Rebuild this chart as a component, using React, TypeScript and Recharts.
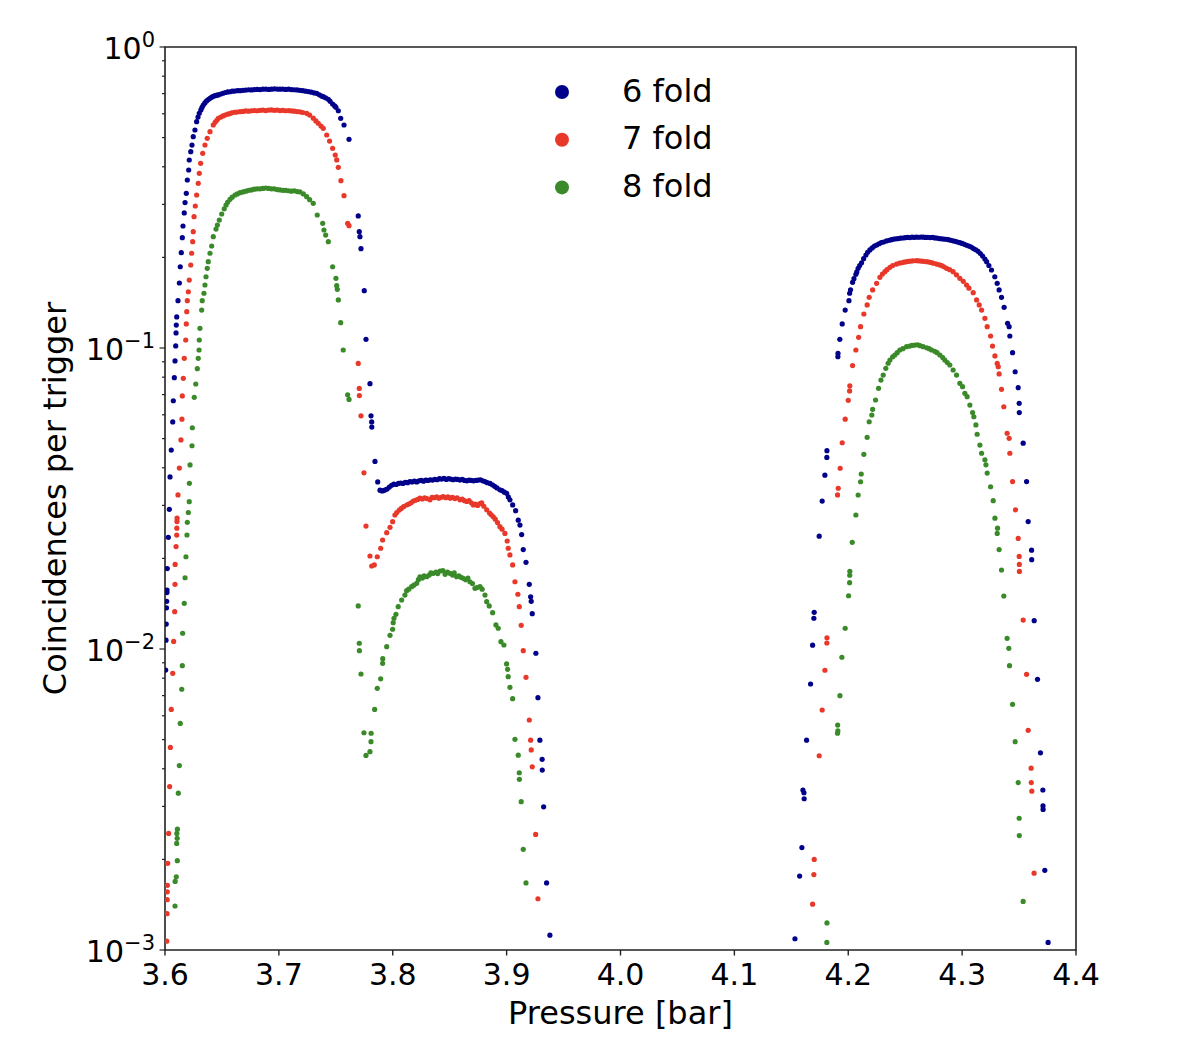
import { ScatterChart, Scatter, XAxis, YAxis, ReferenceArea, Legend } from 'recharts';

// Coincidence rate per trigger vs. gas pressure.
// Each entry is [pressure in bar, coincidences per trigger].
const sixFold: [number, number][] = [
  [3.6006, 0.00851], [3.6009, 0.0107], [3.6011, 0.0121], [3.6013, 0.0137], [3.6015, 0.0144],
  [3.6017, 0.0154], [3.6018, 0.0157], [3.602, 0.0185], [3.6029, 0.0235], [3.6038, 0.0291],
  [3.6044, 0.0373], [3.6055, 0.0458], [3.6068, 0.0568], [3.6073, 0.0668], [3.6082, 0.0797],
  [3.6088, 0.0906], [3.6094, 0.1016], [3.6097, 0.1122], [3.6099, 0.1192], [3.6103, 0.1268],
  [3.6114, 0.1436], [3.6126, 0.1644], [3.6134, 0.1862], [3.6143, 0.2073], [3.6152, 0.2326],
  [3.6158, 0.2543], [3.6169, 0.281], [3.6176, 0.3041], [3.6187, 0.3266], [3.6196, 0.3615],
  [3.6208, 0.3902], [3.6213, 0.4213], [3.6226, 0.449], [3.6237, 0.4724], [3.6248, 0.5035],
  [3.6263, 0.53], [3.6278, 0.5647], [3.629, 0.585], [3.6301, 0.6024], [3.6315, 0.618],
  [3.6325, 0.63], [3.6336, 0.6417], [3.635, 0.652], [3.6365, 0.662], [3.638, 0.669],
  [3.6395, 0.6755], [3.641, 0.681], [3.6425, 0.686], [3.644, 0.689], [3.6455, 0.692],
  [3.6468, 0.693], [3.649, 0.698], [3.651, 0.702], [3.653, 0.706], [3.655, 0.709],
  [3.6571, 0.71], [3.659, 0.713], [3.661, 0.714], [3.6635, 0.716], [3.6659, 0.716],
  [3.6685, 0.718], [3.671, 0.719], [3.6735, 0.721], [3.676, 0.72], [3.6785, 0.722],
  [3.681, 0.723], [3.6835, 0.722], [3.686, 0.724], [3.6885, 0.725], [3.691, 0.723],
  [3.6935, 0.724], [3.696, 0.726], [3.6985, 0.725], [3.701, 0.724], [3.7035, 0.725],
  [3.706, 0.723], [3.7085, 0.724], [3.711, 0.722], [3.7135, 0.721], [3.716, 0.72],
  [3.7185, 0.718], [3.721, 0.716], [3.7235, 0.713], [3.726, 0.711], [3.7285, 0.708],
  [3.731, 0.704], [3.7332, 0.7017], [3.7355, 0.694], [3.7375, 0.687], [3.739, 0.6838],
  [3.741, 0.678], [3.7434, 0.6704], [3.745, 0.66], [3.7472, 0.6466], [3.749, 0.637],
  [3.7501, 0.6303], [3.7522, 0.614], [3.7543, 0.5797], [3.7572, 0.5507], [3.7616, 0.4936],
  [3.7697, 0.2746], [3.7706, 0.2434], [3.7712, 0.2343], [3.7721, 0.2138], [3.775, 0.155],
  [3.7765, 0.1069], [3.78, 0.0761], [3.7809, 0.0595], [3.7815, 0.0568], [3.7816, 0.0546],
  [3.7844, 0.042], [3.7868, 0.0359], [3.7888, 0.0337], [3.7905, 0.0335], [3.792, 0.0336],
  [3.7935, 0.0338], [3.795, 0.034], [3.797, 0.0345], [3.799, 0.035], [3.801, 0.0353],
  [3.803, 0.0352], [3.805, 0.0355], [3.807, 0.0356], [3.809, 0.0355], [3.811, 0.0358],
  [3.813, 0.0357], [3.815, 0.036], [3.817, 0.0359], [3.819, 0.0361], [3.821, 0.0359],
  [3.823, 0.0362], [3.825, 0.0363], [3.827, 0.0361], [3.829, 0.0364], [3.831, 0.0363],
  [3.833, 0.0365], [3.835, 0.0364], [3.837, 0.0366], [3.839, 0.0365], [3.841, 0.0368],
  [3.843, 0.0367], [3.845, 0.0369], [3.847, 0.0366], [3.849, 0.0368], [3.851, 0.0367],
  [3.853, 0.0365], [3.855, 0.0367], [3.857, 0.0366], [3.859, 0.0364], [3.861, 0.0366],
  [3.863, 0.0363], [3.865, 0.0362], [3.867, 0.0364], [3.869, 0.0363], [3.871, 0.0362],
  [3.873, 0.0363], [3.875, 0.0364], [3.877, 0.0365], [3.879, 0.0362], [3.881, 0.036],
  [3.883, 0.0357], [3.8854, 0.0355], [3.8875, 0.0351], [3.8895, 0.0347], [3.8915, 0.0343],
  [3.8941, 0.0338], [3.896, 0.0336], [3.898, 0.0332], [3.9, 0.0329], [3.9015, 0.032],
  [3.9029, 0.0313], [3.9053, 0.0301], [3.9079, 0.0288], [3.9102, 0.0268], [3.9117, 0.0258],
  [3.9132, 0.024], [3.9146, 0.0214], [3.917, 0.0194], [3.9199, 0.0164], [3.9211, 0.0149],
  [3.9216, 0.0144], [3.9225, 0.0131], [3.9257, 0.00968], [3.9275, 0.00689], [3.9292, 0.00498],
  [3.9312, 0.0043], [3.9313, 0.00396], [3.9325, 0.00299], [3.9351, 0.00167], [3.938, 0.00112],
  [4.1532, 0.00109], [4.1573, 0.00176], [4.1593, 0.00219], [4.1602, 0.0034], [4.1611, 0.00333],
  [4.1613, 0.00318], [4.1634, 0.00498], [4.1669, 0.00765], [4.1687, 0.0103], [4.1698, 0.01265],
  [4.1701, 0.01324], [4.1745, 0.0237], [4.1771, 0.031], [4.1795, 0.0378], [4.1812, 0.0433],
  [4.1813, 0.0456], [4.1909, 0.0936], [4.191, 0.096], [4.1926, 0.1069], [4.1947, 0.1202],
  [4.1973, 0.1337], [4.2006, 0.1436], [4.2012, 0.152], [4.202, 0.156], [4.2038, 0.1653],
  [4.205, 0.17], [4.2067, 0.1757], [4.2075, 0.179], [4.2087, 0.184], [4.21, 0.188],
  [4.2117, 0.192], [4.2135, 0.198], [4.2155, 0.2037], [4.217, 0.208], [4.219, 0.2117],
  [4.221, 0.215], [4.223, 0.218], [4.2249, 0.2199], [4.227, 0.222], [4.229, 0.224],
  [4.231, 0.225], [4.2336, 0.2268], [4.236, 0.228], [4.238, 0.229], [4.24, 0.23],
  [4.242, 0.2305], [4.244, 0.231], [4.246, 0.2318], [4.248, 0.232], [4.25, 0.2325],
  [4.252, 0.233], [4.254, 0.2328], [4.256, 0.2335], [4.258, 0.2332], [4.26, 0.2336],
  [4.262, 0.2333], [4.264, 0.2338], [4.266, 0.2334], [4.268, 0.233], [4.27, 0.2332],
  [4.272, 0.2327], [4.274, 0.233], [4.276, 0.2322], [4.278, 0.2318], [4.28, 0.231],
  [4.282, 0.2305], [4.284, 0.23], [4.286, 0.2298], [4.288, 0.229], [4.29, 0.228],
  [4.292, 0.227], [4.294, 0.2262], [4.296, 0.225], [4.298, 0.2238], [4.3, 0.2225],
  [4.302, 0.221], [4.304, 0.2195], [4.306, 0.218], [4.308, 0.2165], [4.31, 0.214],
  [4.312, 0.212], [4.314, 0.2095], [4.316, 0.206], [4.318, 0.202], [4.32, 0.1975],
  [4.3215, 0.1935], [4.3235, 0.188], [4.3258, 0.1816], [4.3287, 0.1725], [4.3308, 0.164],
  [4.3325, 0.1559], [4.3346, 0.1474], [4.3369, 0.1365], [4.3399, 0.1208], [4.3413, 0.1177],
  [4.3419, 0.1096], [4.3443, 0.0965], [4.3466, 0.0834], [4.3492, 0.0738], [4.3501, 0.0655],
  [4.3502, 0.061], [4.3536, 0.0483], [4.3566, 0.036], [4.358, 0.0265], [4.361, 0.0213],
  [4.3611, 0.0198], [4.3633, 0.01242], [4.3662, 0.00793], [4.3688, 0.00452], [4.3709, 0.0034],
  [4.371, 0.00301], [4.3711, 0.00293], [4.3726, 0.00184], [4.3755, 0.00106],
];

const sevenFold: [number, number][] = [
  [3.6015, 0.00107], [3.6018, 0.00132], [3.6019, 0.00147], [3.602, 0.00156], [3.6021, 0.00164],
  [3.6024, 0.00194], [3.6032, 0.00244], [3.6041, 0.00349], [3.6047, 0.00471], [3.6055, 0.0063],
  [3.6068, 0.0083], [3.6076, 0.0106], [3.6085, 0.0133], [3.6088, 0.0164], [3.6089, 0.0191],
  [3.6097, 0.0219], [3.6103, 0.0239], [3.6104, 0.0252], [3.6105, 0.0265], [3.6106, 0.0272],
  [3.6114, 0.0325], [3.6126, 0.0399], [3.614, 0.0495], [3.6149, 0.058], [3.6152, 0.0693],
  [3.6161, 0.0793], [3.6169, 0.0924], [3.6182, 0.1063], [3.6187, 0.1202], [3.6191, 0.132],
  [3.6196, 0.1436], [3.6205, 0.1538], [3.6213, 0.1682], [3.6226, 0.1887], [3.6234, 0.2064],
  [3.6243, 0.2255], [3.6248, 0.2434], [3.6255, 0.2731], [3.6266, 0.2963], [3.6278, 0.3223],
  [3.6292, 0.3524], [3.6301, 0.3805], [3.6313, 0.4108], [3.6331, 0.4434], [3.6351, 0.4725],
  [3.6371, 0.4973], [3.6395, 0.5233], [3.6424, 0.5507], [3.644, 0.562], [3.6455, 0.571],
  [3.6468, 0.5797], [3.649, 0.585], [3.651, 0.59], [3.6527, 0.5943], [3.655, 0.598],
  [3.657, 0.601], [3.6586, 0.6048], [3.661, 0.607], [3.663, 0.608], [3.6659, 0.6095],
  [3.6685, 0.611], [3.671, 0.613], [3.6735, 0.612], [3.676, 0.614], [3.6785, 0.615],
  [3.681, 0.614], [3.6835, 0.616], [3.686, 0.617], [3.6885, 0.615], [3.691, 0.617],
  [3.6935, 0.618], [3.696, 0.616], [3.6985, 0.617], [3.701, 0.615], [3.7035, 0.616],
  [3.706, 0.614], [3.7085, 0.615], [3.711, 0.613], [3.7135, 0.612], [3.716, 0.61],
  [3.7185, 0.609], [3.721, 0.606], [3.7244, 0.602], [3.727, 0.594], [3.7302, 0.58],
  [3.7325, 0.568], [3.7346, 0.558], [3.737, 0.546], [3.739, 0.537], [3.742, 0.51],
  [3.7445, 0.487], [3.7472, 0.4608], [3.7495, 0.4378], [3.7508, 0.4214], [3.7522, 0.3984],
  [3.7545, 0.3596], [3.7572, 0.3206], [3.7604, 0.2596], [3.7616, 0.2549], [3.7697, 0.0889],
  [3.7706, 0.0734], [3.7707, 0.0695], [3.7721, 0.0595], [3.7747, 0.0385], [3.7765, 0.0256],
  [3.78, 0.02037], [3.7815, 0.01887], [3.7838, 0.01902], [3.7864, 0.02025], [3.7894, 0.02161],
  [3.7911, 0.02302], [3.7947, 0.02434], [3.7976, 0.02537], [3.7999, 0.02648], [3.8019, 0.02787],
  [3.8035, 0.0284], [3.8057, 0.02895], [3.8075, 0.0293], [3.8095, 0.0297], [3.8122, 0.03009],
  [3.814, 0.0303], [3.816, 0.0306], [3.818, 0.031], [3.82, 0.0312], [3.822, 0.0314],
  [3.8239, 0.0317], [3.826, 0.0315], [3.828, 0.0318], [3.83, 0.0316], [3.8327, 0.0313],
  [3.8345, 0.0319], [3.8365, 0.0318], [3.8385, 0.032], [3.8405, 0.0317], [3.8425, 0.0319],
  [3.8444, 0.0321], [3.8465, 0.0318], [3.8485, 0.032], [3.8505, 0.0317], [3.8525, 0.0319],
  [3.8545, 0.0316], [3.8565, 0.0318], [3.859, 0.0313], [3.861, 0.0315], [3.863, 0.0311],
  [3.865, 0.0309], [3.867, 0.0311], [3.869, 0.0306], [3.8707, 0.0301], [3.8725, 0.0303],
  [3.8745, 0.03], [3.8765, 0.0304], [3.8781, 0.0306], [3.88, 0.0298], [3.8825, 0.029],
  [3.885, 0.0283], [3.8865, 0.0279], [3.8883, 0.0275], [3.89, 0.027], [3.892, 0.0263],
  [3.8941, 0.0255], [3.896, 0.025], [3.8985, 0.0242], [3.9005, 0.02285], [3.9014, 0.02161],
  [3.9029, 0.02053], [3.9053, 0.01902], [3.9073, 0.01673], [3.9099, 0.0152], [3.9111, 0.01382],
  [3.9128, 0.01199], [3.9146, 0.00987], [3.917, 0.00805], [3.9199, 0.00581], [3.9211, 0.00498],
  [3.9216, 0.00462], [3.9225, 0.00406], [3.9255, 0.00242], [3.9275, 0.00148],
  [4.1687, 0.00142], [4.1698, 0.00178], [4.1701, 0.002], [4.1745, 0.00442], [4.1771, 0.00627],
  [4.1795, 0.0085], [4.1812, 0.01047], [4.1813, 0.0109], [4.1906, 0.0325], [4.1912, 0.0342],
  [4.1929, 0.03985], [4.1947, 0.04845], [4.1973, 0.058], [4.2, 0.067], [4.2012, 0.072],
  [4.2014, 0.0749], [4.2038, 0.0874], [4.2067, 0.0985], [4.2091, 0.1085], [4.2108, 0.1177],
  [4.2137, 0.1297], [4.2166, 0.139], [4.2184, 0.1474], [4.2214, 0.1559], [4.2249, 0.164],
  [4.2278, 0.1717], [4.23, 0.176], [4.2322, 0.1793], [4.234, 0.182], [4.2366, 0.1854],
  [4.239, 0.188], [4.2424, 0.1901], [4.245, 0.1915], [4.247, 0.192], [4.249, 0.1928],
  [4.2512, 0.1935], [4.253, 0.194], [4.255, 0.1945], [4.257, 0.1948], [4.26, 0.195],
  [4.262, 0.1948], [4.264, 0.1944], [4.266, 0.194], [4.2688, 0.1935], [4.271, 0.193],
  [4.273, 0.1922], [4.275, 0.1912], [4.2776, 0.1901], [4.28, 0.189], [4.282, 0.1878],
  [4.284, 0.1862], [4.2863, 0.184], [4.289, 0.182], [4.2921, 0.1793], [4.295, 0.175],
  [4.298, 0.1704], [4.301, 0.1665], [4.3039, 0.1619], [4.306, 0.158], [4.3097, 0.1527],
  [4.3127, 0.1444], [4.315, 0.139], [4.3171, 0.1337], [4.32, 0.1255], [4.322, 0.1177],
  [4.325, 0.1096], [4.3267, 0.1015], [4.3288, 0.0941], [4.3308, 0.0889], [4.3317, 0.0867],
  [4.3325, 0.082], [4.3346, 0.0729], [4.3366, 0.0638], [4.3395, 0.0521], [4.3413, 0.0501],
  [4.3419, 0.0447], [4.3443, 0.036], [4.3469, 0.029], [4.3492, 0.0233], [4.3501, 0.0203],
  [4.3502, 0.0191], [4.3503, 0.0181], [4.3536, 0.01248], [4.3566, 0.00824], [4.358, 0.00537],
  [4.3606, 0.00402], [4.3607, 0.0036], [4.3612, 0.00337], [4.3632, 0.0018],
];

const eightFold: [number, number][] = [
  [3.6088, 0.0014], [3.6089, 0.00169], [3.6099, 0.00175], [3.6108, 0.00198], [3.6103, 0.00226],
  [3.6107, 0.00235], [3.6104, 0.00244], [3.6109, 0.00252], [3.6117, 0.00332], [3.6126, 0.0041],
  [3.6134, 0.00566], [3.6147, 0.00735], [3.6152, 0.0088], [3.6155, 0.01128], [3.6169, 0.01418],
  [3.6176, 0.01725], [3.6184, 0.02025], [3.6193, 0.02392], [3.6196, 0.02636], [3.6205, 0.02841],
  [3.6213, 0.03086], [3.6214, 0.03552], [3.622, 0.04087], [3.6237, 0.04735], [3.624, 0.05434],
  [3.6257, 0.06859], [3.627, 0.07594], [3.6284, 0.08535], [3.6292, 0.09242], [3.6299, 0.09849],
  [3.6301, 0.1063], [3.6307, 0.1162], [3.6322, 0.1337], [3.6327, 0.1436], [3.6342, 0.152],
  [3.6351, 0.1619], [3.636, 0.1725], [3.6371, 0.184], [3.638, 0.1935], [3.6395, 0.2064],
  [3.641, 0.2182], [3.6424, 0.2343], [3.6448, 0.2484], [3.646, 0.256], [3.6477, 0.2661],
  [3.6498, 0.2787], [3.652, 0.29], [3.6536, 0.2986], [3.655, 0.305], [3.6571, 0.3119],
  [3.659, 0.317], [3.6615, 0.3223], [3.6635, 0.325], [3.6659, 0.3281], [3.6685, 0.33],
  [3.671, 0.332], [3.6735, 0.334], [3.676, 0.335], [3.6785, 0.337], [3.681, 0.338],
  [3.6835, 0.338], [3.686, 0.339], [3.6885, 0.34], [3.691, 0.339], [3.6935, 0.338],
  [3.696, 0.338], [3.6985, 0.336], [3.701, 0.335], [3.7035, 0.334], [3.706, 0.334],
  [3.7085, 0.333], [3.711, 0.332], [3.7135, 0.333], [3.716, 0.331], [3.7185, 0.33],
  [3.7215, 0.325], [3.7244, 0.3183], [3.727, 0.311], [3.7302, 0.3025], [3.7337, 0.2766],
  [3.7385, 0.2596], [3.7396, 0.2466], [3.7411, 0.2373], [3.7434, 0.2255], [3.7472, 0.1862],
  [3.7501, 0.1704], [3.7508, 0.1611], [3.7513, 0.1567], [3.7522, 0.1444], [3.7543, 0.1214],
  [3.7565, 0.0985], [3.7604, 0.0699], [3.7616, 0.0675], [3.7697, 0.0139], [3.7706, 0.01045],
  [3.7707, 0.00987], [3.7721, 0.00826], [3.7747, 0.00527], [3.7765, 0.00443], [3.78, 0.00456],
  [3.7809, 0.00492], [3.781, 0.00525], [3.7841, 0.0063], [3.7864, 0.0074], [3.7894, 0.00796],
  [3.7911, 0.00896], [3.7912, 0.00929], [3.7947, 0.01018], [3.7976, 0.0111], [3.7999, 0.01163],
  [3.8004, 0.01223], [3.8011, 0.01265], [3.8028, 0.01304], [3.8048, 0.01382], [3.8078, 0.01455],
  [3.8107, 0.01511], [3.8122, 0.01562], [3.814, 0.0158], [3.8166, 0.01611], [3.8185, 0.0163],
  [3.821, 0.01653], [3.8225, 0.017], [3.8239, 0.01738], [3.826, 0.0172], [3.8275, 0.0175],
  [3.8298, 0.01738], [3.832, 0.0176], [3.8335, 0.0179], [3.8356, 0.01784], [3.838, 0.018],
  [3.8395, 0.0178], [3.8415, 0.01816], [3.844, 0.0182], [3.846, 0.0177], [3.848, 0.018],
  [3.8502, 0.01784], [3.8525, 0.0176], [3.854, 0.0179], [3.8561, 0.01738], [3.858, 0.0175],
  [3.86, 0.0173], [3.8619, 0.01717], [3.864, 0.017], [3.866, 0.0172], [3.8678, 0.01673],
  [3.87, 0.0165], [3.8722, 0.01591], [3.874, 0.016], [3.8766, 0.01611], [3.8785, 0.0158],
  [3.881, 0.01511], [3.8825, 0.01436], [3.8847, 0.0139], [3.8877, 0.0132], [3.8906, 0.01202],
  [3.8926, 0.01172], [3.895, 0.01058], [3.8976, 0.01031], [3.9, 0.00892], [3.9009, 0.00856],
  [3.9014, 0.00809], [3.9029, 0.00746], [3.9053, 0.00684], [3.9073, 0.00501], [3.9102, 0.00444],
  [3.9111, 0.00388], [3.9112, 0.00369], [3.9128, 0.00311], [3.9146, 0.00216], [3.917, 0.00167],
  [4.1812, 0.00106], [4.1813, 0.00123], [4.1906, 0.00525], [4.1909, 0.00535], [4.1907, 0.00559],
  [4.1927, 0.007], [4.1944, 0.00939], [4.1973, 0.01172], [4.2003, 0.01503], [4.2012, 0.01661],
  [4.2013, 0.01758], [4.2014, 0.01812], [4.2035, 0.02262], [4.2067, 0.02787], [4.2087, 0.03248],
  [4.2108, 0.03595], [4.2114, 0.03814], [4.2137, 0.04433], [4.2166, 0.0505], [4.2184, 0.05689],
  [4.2207, 0.0599], [4.2214, 0.06257], [4.224, 0.06719], [4.2266, 0.07345], [4.2287, 0.07827],
  [4.2307, 0.08131], [4.233, 0.08561], [4.235, 0.089], [4.2366, 0.09123], [4.239, 0.0935],
  [4.2409, 0.09478], [4.243, 0.0965], [4.2453, 0.09849], [4.248, 0.0995], [4.2512, 0.101],
  [4.254, 0.1015], [4.256, 0.102], [4.2585, 0.1023], [4.261, 0.1025], [4.263, 0.1018],
  [4.2658, 0.101], [4.269, 0.1002], [4.271, 0.0995], [4.2732, 0.0985], [4.276, 0.0975],
  [4.278, 0.0965], [4.2805, 0.0948], [4.283, 0.093], [4.2848, 0.0912], [4.287, 0.0895],
  [4.2892, 0.0878], [4.2921, 0.0845], [4.2951, 0.0813], [4.298, 0.0763], [4.3004, 0.0744],
  [4.3024, 0.0707], [4.3044, 0.0689], [4.3068, 0.0646], [4.3092, 0.061], [4.3103, 0.0591],
  [4.3121, 0.0555], [4.3132, 0.0517], [4.3156, 0.0476], [4.3171, 0.0447], [4.32, 0.0425],
  [4.3209, 0.0409], [4.322, 0.0384], [4.325, 0.0346], [4.3273, 0.0311], [4.3288, 0.0272],
  [4.3311, 0.0252], [4.3308, 0.0242], [4.3325, 0.0214], [4.3346, 0.0183], [4.3366, 0.015],
  [4.3395, 0.01085], [4.341, 0.01005], [4.3416, 0.0088], [4.3443, 0.00655], [4.3466, 0.00492],
  [4.3492, 0.0036], [4.3501, 0.00274], [4.3502, 0.0024], [4.3536, 0.00145],
];

const pressureTicks = [3.6, 3.7, 3.8, 3.9, 4.0, 4.1, 4.2, 4.3, 4.4];
const decadeTicks = [0.001, 0.01, 0.1, 1];
const minorTicks = [
  0.002, 0.003, 0.004, 0.005, 0.006, 0.007, 0.008, 0.009,
  0.02, 0.03, 0.04, 0.05, 0.06, 0.07, 0.08, 0.09,
  0.2, 0.3, 0.4, 0.5, 0.6, 0.7, 0.8, 0.9,
];

const FONT = 'DejaVu Sans';
const INK = '#222';

const series = [
  { name: '6 fold', color: '#00008b', points: sixFold },
  { name: '7 fold', color: '#e8382a', points: sevenFold },
  { name: '8 fold', color: '#3a8a2a', points: eightFold },
];

const toRows = (pts: [number, number][]) => pts.map(([p, v]) => ({ p, v }));

const dot = (color: string) => (props: any) => (
  <circle cx={props.cx} cy={props.cy} r={2.6} fill={color} />
);

function PressureTick({ x, y, payload }: any) {
  return (
    <g>
      <line x1={x} x2={x} y1={y} y2={y + 5.5} stroke={INK} strokeWidth={1.4} />
      <text x={x} y={y + 35} textAnchor="middle" fontFamily={FONT} fontSize={30} fill="#000">
        {payload.value.toFixed(1)}
      </text>
    </g>
  );
}

function DecadeTick({ x, y, payload }: any) {
  const lg = Math.log10(payload.value);
  const exp = Math.round(lg);
  const major = Math.abs(lg - exp) < 1e-6;
  return (
    <g>
      <line x1={x} x2={x - (major ? 5.5 : 3)} y1={y} y2={y} stroke={INK} strokeWidth={1.2} />
      {major && (
        <text x={x - 10} y={y + 12} textAnchor="end" fontFamily={FONT} fontSize={30} fill="#000">
          10
          <tspan fontSize={21} dy={-12}>
            {exp === 0 ? '0' : `\u2212${-exp}`}
          </tspan>
        </text>
      )}
    </g>
  );
}

function FoldLegend() {
  return (
    <svg width={220} height={150}>
      {series.map((s, i) => (
        <g key={s.name}>
          <circle cx={17} cy={27 + i * 47.7} r={7} fill={s.color} />
          <text x={77} y={36.5 + i * 47.7} fontFamily={FONT} fontSize={32} fill="#000">
            {s.name}
          </text>
        </g>
      ))}
    </svg>
  );
}

export default function App() {
  return (
    <div style={{ position: 'absolute', left: 0, top: 0, width: 1186, height: 1042, background: '#fff' }}>
      <ScatterChart width={1186} height={1042} margin={{ top: 47, right: 110, bottom: 0, left: 0 }}>
        <XAxis
          type="number"
          dataKey="p"
          domain={[3.6, 4.4]}
          ticks={pressureTicks}
          interval={0}
          allowDataOverflow
          height={92}
          axisLine={false}
          tickLine={false}
          tickSize={0}
          tickMargin={0}
          tick={<PressureTick />}
          label={{
            content: ({ viewBox }: any) => (
              <text
                x={viewBox.x + viewBox.width / 2}
                y={1024}
                textAnchor="middle"
                fontFamily={FONT}
                fontSize={32}
                fill="#000"
              >
                Pressure [bar]
              </text>
            ),
          }}
        />
        <YAxis
          type="number"
          dataKey="v"
          scale="log"
          domain={[0.001, 1]}
          ticks={[...decadeTicks, ...minorTicks].sort((a, b) => a - b)}
          interval={0}
          allowDataOverflow
          width={165}
          axisLine={false}
          tickLine={false}
          tickSize={0}
          tickMargin={0}
          tick={<DecadeTick />}
          label={{
            content: ({ viewBox }: any) => {
              const cy = viewBox.y + viewBox.height / 2;
              return (
                <text
                  x={66}
                  y={cy}
                  transform={`rotate(-90 66 ${cy})`}
                  textAnchor="middle"
                  fontFamily={FONT}
                  fontSize={32}
                  fill="#000"
                >
                  Coincidences per trigger
                </text>
              );
            },
          }}
        />
        <ReferenceArea
          x1={3.6}
          x2={4.4}
          y1={0.001}
          y2={1}
          fill="none"
          stroke={INK}
          strokeWidth={1.6}
          ifOverflow="visible"
        />
        {series.map((s) => (
          <Scatter
            key={s.name}
            name={s.name}
            data={toRows(s.points)}
            fill={s.color}
            shape={dot(s.color)}
            isAnimationActive={false}
          />
        ))}
        <Legend
          layout="vertical"
          align="center"
          verticalAlign="middle"
          wrapperStyle={{ left: 545, top: 65, width: 220, height: 150 }}
          content={<FoldLegend />}
        />
      </ScatterChart>
    </div>
  );
}
